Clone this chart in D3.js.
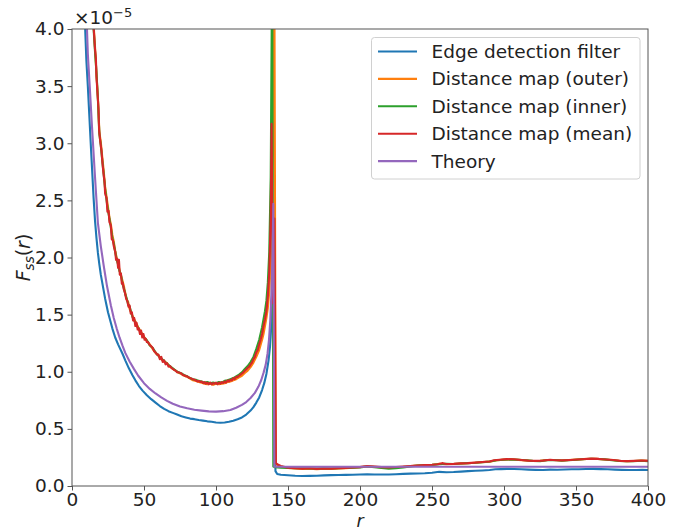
<!DOCTYPE html>
<html>
<head>
<meta charset="utf-8">
<script src="https://cdn.jsdelivr.net/npm/d3@7"></script>
<style>
  html, body { margin: 0; padding: 0; background: #fff; }
  svg { display: block; font-family: "DejaVu Sans", sans-serif; }
</style>
</head>
<body>
<svg id="chart" width="685" height="530"></svg>
<script>
// F_ss(r) curves, values in units of 1e-5, as [r, value] pairs
const edgeFilter = [[8.5,4.4],[9,4.05],[10,3.72],[11,3.50],[12,3.25],[13,3.0],[14,2.76],[15,2.52],[16,2.32],[17,2.17],[18,2.04],[19,1.94],[20,1.85],[21,1.78],[22,1.71],[23,1.64],[24,1.58],[25,1.52],[26.5,1.45],[28,1.38],[30,1.30],[32,1.24],[35,1.16],[37,1.10],[39.5,1.03],[42,0.97],[44,0.925],[46.5,0.875],[49,0.835],[52,0.795],[55,0.76],[58,0.73],[61,0.70],[64,0.675],[67,0.655],[70,0.64],[73,0.625],[76,0.61],[79,0.60],[82,0.59],[85,0.585],[88,0.577],[91,0.572],[94,0.566],[97,0.562],[100,0.556],[103,0.553],[106,0.556],[109,0.562],[112,0.572],[115,0.585],[118,0.60],[121,0.625],[124,0.66],[126,0.69],[128,0.73],[130,0.775],[132,0.84],[133.5,0.90],[135,0.98],[136.5,1.10],[137.5,1.22],[138.5,1.42],[139.5,1.75],[140.5,2.2],[141.3,0.13],[142.5,0.105],[145,0.098],[150,0.094],[155,0.09],[160,0.088],[165,0.089],[170,0.09],[175,0.093],[180,0.095],[185,0.096],[190,0.097],[195,0.099],[200,0.10],[205,0.102],[210,0.101],[215,0.10],[220,0.101],[225,0.103],[230,0.106],[235,0.108],[240,0.11],[245,0.112],[250,0.116],[255,0.124],[260,0.12],[265,0.122],[270,0.126],[275,0.13],[280,0.133],[285,0.136],[290,0.14],[294,0.146],[298,0.148],[302,0.15],[307,0.149],[312,0.146],[317,0.143],[322,0.141],[327,0.14],[332,0.143],[337,0.142],[342,0.144],[347,0.146],[352,0.147],[357,0.149],[362,0.15],[367,0.148],[372,0.146],[377,0.143],[382,0.141],[387,0.14],[392,0.14],[396,0.141],[400,0.14]];

const distOuter = [[14.2,4.45],[15.2,4.0],[16,3.84],[17,3.60],[18,3.40],[19,3.10],[20,3.01],[21,2.88],[22,2.76],[23,2.62],[24,2.53],[25,2.44],[26,2.35],[27,2.29],[28,2.20],[29,2.14],[30,2.06],[31,2.00],[32,1.95],[33,1.89],[34,1.84],[35,1.80],[36,1.75],[37,1.69],[38,1.63],[39,1.61],[40,1.55],[42,1.49],[44,1.44],[46,1.39],[48,1.345],[50,1.305],[52,1.27],[54,1.24],[56,1.20],[58,1.165],[60,1.145],[62,1.11],[64,1.09],[66,1.075],[68,1.045],[70,1.025],[72,1.01],[74,0.99],[76,0.98],[78,0.965],[80,0.955],[82,0.94],[84,0.925],[86,0.92],[88,0.91],[90,0.905],[92,0.895],[94,0.89],[96,0.895],[98,0.885],[100,0.895],[102,0.89],[104,0.895],[106,0.90],[108,0.91],[110,0.915],[112,0.925],[114,0.935],[116,0.95],[118,0.965],[120,0.99],[122,1.01],[124,1.04],[126,1.08],[128,1.13],[130,1.19],[132,1.28],[133,1.33],[134,1.40],[135,1.47],[136,1.56],[137,1.70],[138,1.95],[139,2.45],[139.8,3.3],[140.5,4.6],[141.5,0.20],[142.5,0.185],[145,0.17],[150,0.158],[155,0.153],[160,0.15],[165,0.152],[170,0.148],[175,0.151],[180,0.15],[185,0.153],[190,0.156],[195,0.16],[200,0.166],[205,0.172],[210,0.168],[215,0.163],[220,0.161],[225,0.164],[230,0.168],[235,0.174],[240,0.179],[245,0.182],[250,0.184],[255,0.195],[260,0.19],[265,0.193],[270,0.196],[275,0.199],[280,0.204],[285,0.209],[290,0.213],[295,0.226],[300,0.231],[305,0.233],[310,0.229],[315,0.224],[320,0.219],[325,0.221],[330,0.228],[335,0.228],[340,0.223],[345,0.227],[350,0.231],[355,0.235],[360,0.239],[365,0.237],[370,0.232],[375,0.227],[380,0.221],[385,0.217],[390,0.219],[395,0.222],[400,0.221]];

const distInner = [[13.8,4.45],[15,4.0],[16,3.80],[17,3.62],[18,3.38],[19,3.08],[20,2.98],[21,2.85],[22,2.73],[23,2.60],[24,2.50],[25,2.41],[26,2.34],[27,2.26],[28,2.17],[29,2.12],[30,2.05],[31,1.98],[32,1.94],[33,1.88],[34,1.85],[35,1.77],[36,1.73],[37,1.68],[38,1.64],[39,1.59],[40,1.57],[42,1.48],[44,1.43],[46,1.38],[48,1.34],[50,1.30],[52,1.275],[54,1.23],[56,1.21],[58,1.17],[60,1.14],[62,1.115],[64,1.095],[66,1.07],[68,1.05],[70,1.03],[72,1.01],[74,0.995],[76,0.985],[78,0.97],[80,0.96],[82,0.945],[84,0.935],[86,0.93],[88,0.92],[90,0.915],[92,0.905],[94,0.91],[96,0.90],[98,0.905],[100,0.90],[102,0.91],[104,0.905],[106,0.92],[108,0.925],[110,0.935],[112,0.945],[114,0.96],[116,0.975],[118,0.995],[120,1.025],[122,1.05],[124,1.085],[126,1.13],[128,1.20],[130,1.28],[132,1.39],[133,1.46],[134,1.53],[135,1.62],[136,1.78],[137,2.05],[138,2.70],[139,4.6],[139.8,0.17],[141,0.165],[145,0.16],[150,0.158],[155,0.156],[160,0.155],[165,0.153],[170,0.152],[175,0.154],[180,0.153],[185,0.156],[190,0.157],[195,0.16],[200,0.163],[205,0.17],[210,0.165],[215,0.158],[220,0.152],[225,0.155],[230,0.162],[235,0.172],[240,0.178],[245,0.182],[250,0.185],[255,0.19],[260,0.195],[265,0.193],[270,0.197],[275,0.2],[280,0.203],[285,0.208],[290,0.214],[295,0.225],[300,0.23],[305,0.232],[310,0.23],[315,0.225],[320,0.22],[325,0.218],[330,0.225],[335,0.227],[340,0.222],[345,0.226],[350,0.23],[355,0.234],[360,0.238],[365,0.236],[370,0.233],[375,0.226],[380,0.219],[385,0.216],[390,0.218],[395,0.221],[400,0.218]];

const distMean = [[14,4.45],[15,4.02],[16,3.82],[16.6,3.74],[17,3.58],[17.8,3.42],[18.4,3.30],[18.8,3.12],[19.6,3.02],[20.5,2.93],[21.2,2.82],[22,2.72],[22.6,2.66],[23,2.56],[24,2.52],[24.6,2.40],[25.4,2.41],[26,2.31],[27,2.28],[27.6,2.16],[28.4,2.15],[29,2.10],[30,2.05],[30.6,1.98],[31.4,1.99],[32,1.91],[32.6,1.98],[33.2,1.85],[34,1.86],[34.6,1.77],[35.2,1.78],[36,1.72],[36.8,1.69],[37.6,1.64],[38.4,1.62],[39.2,1.57],[40,1.58],[40.8,1.51],[41.6,1.52],[42.4,1.45],[43.2,1.47],[44,1.40],[44.8,1.43],[45.6,1.37],[46.4,1.38],[47.2,1.33],[48,1.36],[48.8,1.30],[49.6,1.33],[50.4,1.28],[51.2,1.29],[52,1.26],[52.8,1.26],[53.6,1.24],[54.4,1.23],[55.2,1.22],[56,1.21],[57,1.18],[58,1.17],[59,1.15],[60,1.15],[61,1.11],[62,1.13],[63,1.085],[64,1.10],[65,1.065],[66,1.075],[67,1.045],[68,1.05],[69,1.035],[70,1.025],[71,1.015],[72,1.01],[73,0.995],[74,0.995],[75,0.99],[76,0.985],[77,0.97],[78,0.97],[79,0.96],[80,0.96],[81,0.95],[82,0.945],[83,0.94],[84,0.935],[85,0.93],[86,0.925],[87,0.915],[88,0.92],[89,0.91],[90,0.915],[91,0.90],[92,0.91],[93,0.895],[94,0.905],[95,0.89],[96,0.905],[97,0.89],[98,0.90],[99,0.895],[100,0.905],[101,0.89],[102,0.905],[103,0.895],[104,0.91],[105,0.90],[106,0.915],[107,0.905],[108,0.925],[109,0.915],[110,0.93],[111,0.925],[112,0.945],[113,0.935],[114,0.955],[115,0.955],[116,0.965],[117,0.975],[118,0.985],[119,0.995],[120,1.01],[121,1.02],[122,1.035],[123,1.045],[124,1.065],[125,1.08],[126,1.11],[127,1.13],[128,1.17],[129,1.19],[130,1.24],[131,1.28],[132,1.33],[133,1.40],[134,1.46],[135,1.53],[136,1.66],[137,1.88],[138,2.35],[138.6,3.17],[139.6,1.60],[140.6,2.34],[141.6,0.20],[142.5,0.19],[145,0.175],[150,0.16],[155,0.155],[160,0.152],[165,0.155],[170,0.15],[175,0.153],[180,0.152],[185,0.155],[190,0.158],[195,0.162],[200,0.165],[205,0.175],[210,0.17],[215,0.165],[220,0.163],[225,0.166],[230,0.17],[235,0.175],[240,0.18],[245,0.183],[250,0.186],[254,0.19],[257,0.2],[260,0.192],[265,0.194],[270,0.198],[275,0.2],[280,0.205],[285,0.21],[290,0.215],[293,0.226],[297,0.23],[302,0.235],[307,0.234],[312,0.228],[317,0.222],[322,0.22],[327,0.222],[332,0.23],[336,0.226],[341,0.224],[346,0.228],[351,0.232],[356,0.236],[361,0.24],[366,0.237],[371,0.232],[376,0.228],[381,0.22],[386,0.218],[391,0.22],[396,0.223],[400,0.22]];

const theory = [[9.8,4.4],[10.4,4.0],[11,3.78],[12.3,3.5],[14,3.12],[16,2.70],[18,2.30],[20,2.10],[22,1.93],[24.3,1.75],[27,1.58],[29,1.47],[31,1.38],[33,1.30],[35,1.23],[37,1.165],[40,1.09],[43,1.025],[46,0.965],[50,0.90],[54,0.85],[58,0.81],[62,0.775],[66,0.745],[70,0.72],[75,0.695],[80,0.68],[85,0.668],[90,0.66],[95,0.653],[100,0.651],[105,0.655],[110,0.665],[114,0.685],[118,0.71],[121,0.735],[124,0.77],[127,0.815],[129.5,0.87],[131.5,0.93],[133,0.99],[134.5,1.06],[135.8,1.16],[136.8,1.28],[137.7,1.45],[138.5,1.70],[139.2,2.0],[139.8,2.47],[140.5,0.168],[145,0.168],[200,0.168],[300,0.168],[400,0.168]];

const seriesNames = ["Edge detection filter", "Distance map (outer)", "Distance map (inner)", "Distance map (mean)", "Theory"];
const seriesData = [edgeFilter, distOuter, distInner, distMean, theory];
const seriesColors = ["#1f77b4", "#ff7f0e", "#2ca02c", "#d62728", "#9467bd"];

const xTicks = [0, 50, 100, 150, 200, 250, 300, 350, 400];
const yTicks = [0.0, 0.5, 1.0, 1.5, 2.0, 2.5, 3.0, 3.5, 4.0];

const svg = d3.select("#chart");
const plotLeft = 72, plotRight = 648, plotTop = 29, plotBottom = 486;
const x = d3.scaleLinear().domain([0, 400]).range([plotLeft, plotRight]);
const y = d3.scaleLinear().domain([0, 4]).range([plotBottom, plotTop]);

const axisColor = "#555";
const fontSize = 18.5;

svg.append("defs").append("clipPath").attr("id", "plot-clip")
  .append("rect").attr("x", plotLeft).attr("y", plotTop)
  .attr("width", plotRight - plotLeft).attr("height", plotBottom - plotTop);

// curves
const line = d3.line().x(d => x(d[0])).y(d => y(d[1]));
const curves = svg.append("g").attr("clip-path", "url(#plot-clip)");
seriesData.forEach((data, i) => {
  curves.append("path")
    .datum(data)
    .attr("d", line)
    .attr("fill", "none")
    .attr("stroke", seriesColors[i])
    .attr("stroke-width", 2.1)
    .attr("stroke-linejoin", "round")
    .attr("stroke-linecap", "butt");
});

// axes
const xAxis = svg.append("g").attr("transform", `translate(0,${plotBottom})`)
  .call(d3.axisBottom(x).tickValues(xTicks).tickSize(4.5).tickPadding(2.5).tickFormat(d3.format("d")));
const yAxis = svg.append("g").attr("transform", `translate(${plotLeft},0)`)
  .call(d3.axisLeft(y).tickValues(yTicks).tickSize(4.5).tickPadding(3).tickFormat(d3.format(".1f")));
[xAxis, yAxis].forEach(g => {
  g.select(".domain").remove();
  g.selectAll(".tick line").attr("stroke", axisColor).attr("stroke-width", 1);
  g.selectAll(".tick text").attr("fill", "#222").attr("font-size", fontSize)
    .attr("font-family", "DejaVu Sans");
});

// frame
svg.append("rect").attr("x", plotLeft).attr("y", plotTop)
  .attr("width", plotRight - plotLeft).attr("height", plotBottom - plotTop)
  .attr("fill", "none").attr("stroke", axisColor).attr("stroke-width", 1);

// offset label
const off = svg.append("text").attr("x", plotLeft + 2).attr("y", 24)
  .attr("font-size", fontSize).attr("fill", "#222");
off.append("tspan").text("×10");
off.append("tspan").attr("dy", -7).attr("font-size", 13).text("−5");

// axis labels
svg.append("text").attr("x", (plotLeft + plotRight) / 2).attr("y", 526.5)
  .attr("text-anchor", "middle").attr("font-size", 17.5).attr("font-style", "italic")
  .attr("fill", "#222").text("r");

const yl = svg.append("text")
  .attr("transform", `translate(30,${(plotTop + plotBottom) / 2}) rotate(-90)`)
  .attr("text-anchor", "middle").attr("font-size", 19).attr("fill", "#222");
yl.append("tspan").attr("font-style", "italic").text("F");
yl.append("tspan").attr("font-style", "italic").attr("font-size", 13.5).attr("dy", 4).text("ss");
yl.append("tspan").attr("dy", -4).text("(");
yl.append("tspan").attr("font-style", "italic").text("r");
yl.append("tspan").text(")");

// legend
const legend = svg.append("g");
legend.append("rect").attr("x", 371.5).attr("y", 37.5).attr("width", 268.5).attr("height", 141.5)
  .attr("rx", 3).attr("fill", "#fff").attr("fill-opacity", 0.8)
  .attr("stroke", "#d0d0d0").attr("stroke-width", 1);
seriesNames.forEach((name, i) => {
  const yy = 51.5 + i * 27.4;
  legend.append("line").attr("x1", 378).attr("x2", 417).attr("y1", yy).attr("y2", yy)
    .attr("stroke", seriesColors[i]).attr("stroke-width", 2.1);
  legend.append("text").attr("x", 431.5).attr("y", yy + 6.5)
    .attr("font-size", fontSize).attr("fill", "#222").text(name);
});
</script>
</body>
</html>
